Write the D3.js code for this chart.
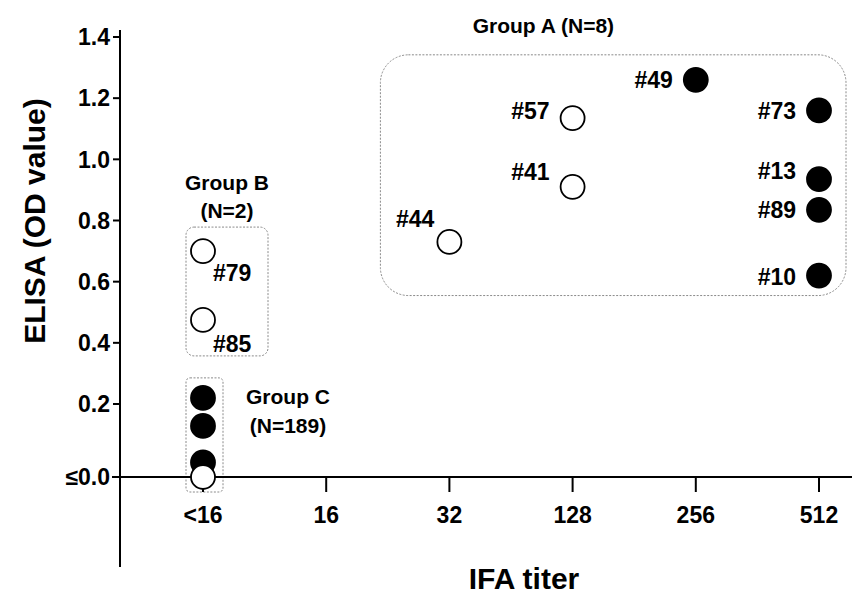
<!DOCTYPE html>
<html>
<head>
<meta charset="utf-8">
<script src="https://cdn.jsdelivr.net/npm/d3@7"></script>
<style>
  html, body { margin: 0; padding: 0; background: #fff; }
  svg { display: block; font-family: Arial, 'Liberation Sans', Helvetica, sans-serif; font-weight: bold; }
</style>
</head>
<body>
<script>

// x categories (IFA titer) and y ticks (ELISA OD)
const titerCats = ['<16', '16', '32', '128', '256', '512'];
const odTicks = [0, 0.2, 0.4, 0.6, 0.8, 1.0, 1.2, 1.4];
const odTickLabels = ['≤0.0', '0.2', '0.4', '0.6', '0.8', '1.0', '1.2', '1.4'];

// group A (N=8)
const groupAIds = ['#44', '#57', '#41', '#49', '#73', '#13', '#89', '#10'];
const groupATiter = ['32', '128', '128', '256', '512', '512', '512', '512'];
const groupAOD = [0.73, 1.135, 0.91, 1.26, 1.16, 0.935, 0.835, 0.62];
const groupAPositive = [false, false, false, true, true, true, true, true];

// group B (N=2)
const groupBIds = ['#79', '#85'];
const groupBTiter = ['<16', '<16'];
const groupBOD = [0.70, 0.475];
const groupBPositive = [false, false];

// group C (N=189)
const groupCIds = ['', '', '', ''];
const groupCTiter = ['<16', '<16', '<16', '<16'];
const groupCOD = [0.22, 0.14, 0.04, 0.0];
const groupCPositive = [true, true, true, false];

const width = 852;
const height = 596;
const axisX = 120;
const axisY = 477;

const svg = d3.select('body').append('svg')
  .attr('width', width)
  .attr('height', height);

svg.append('rect')
  .attr('width', width)
  .attr('height', height)
  .attr('fill', '#fff');

const x = d3.scalePoint()
  .domain(titerCats)
  .range([203, 819]);

// the <=0.0 band is drawn a bit taller than the other steps
const y = d3.scaleLinear()
  .domain([0, 0.2, 1.4])
  .range([axisY, 404, 37]);

function zip(ids, titers, ods, pos) {
  return ids.map(function (id, i) {
    return { id: id, titer: titers[i], od: ods[i], positive: pos[i] };
  });
}

const groups = [
  { name: 'A', lines: ['Group A (N=8)'], points: zip(groupAIds, groupATiter, groupAOD, groupAPositive),
    pad: [25, 27, 20, 69], rx: 28 },
  { name: 'B', lines: ['Group B', '(N=2)'], points: zip(groupBIds, groupBTiter, groupBOD, groupBPositive),
    pad: [24, 65, 36, 17], rx: 8 },
  { name: 'C', lines: ['Group C', '(N=189)'], points: zip(groupCIds, groupCTiter, groupCOD, groupCPositive),
    pad: [20, 20, 15, 17], rx: 4 }
];

// where each id label sits relative to its point [dx, dy]
const labelOffsets = {
  '#44': [-15, -15], '#57': [-23, 1], '#41': [-23, -7], '#49': [-23, 8],
  '#73': [-23, 9], '#13': [-23, 0], '#89': [-23, 8], '#10': [-23, 9],
  '#79': [10, 30], '#85': [10, 32]
};

// group boxes
groups.forEach(function (g) {
  const xs = g.points.map(function (d) { return x(d.titer); });
  const ys = g.points.map(function (d) { return y(d.od); });
  g.box = {
    x0: d3.min(xs) - g.pad[3],
    x1: d3.max(xs) + g.pad[1],
    y0: d3.min(ys) - g.pad[0],
    y1: d3.max(ys) + g.pad[2]
  };
});

svg.append('g')
  .attr('class', 'boxes')
  .selectAll('rect')
  .data(groups)
  .enter().append('rect')
    .attr('x', function (g) { return g.box.x0; })
    .attr('y', function (g) { return g.box.y0; })
    .attr('width', function (g) { return g.box.x1 - g.box.x0; })
    .attr('height', function (g) { return g.box.y1 - g.box.y0; })
    .attr('rx', function (g) { return g.rx; })
    .attr('fill', 'none')
    .attr('stroke', '#8a8a8a')
    .attr('stroke-width', 1)
    .attr('stroke-dasharray', '2,1.5');

// axes
svg.append('line')
  .attr('x1', axisX).attr('x2', axisX)
  .attr('y1', 30).attr('y2', 567)
  .attr('stroke', '#000').attr('stroke-width', 2);

svg.append('line')
  .attr('x1', axisX - 8).attr('x2', width)
  .attr('y1', axisY).attr('y2', axisY)
  .attr('stroke', '#000').attr('stroke-width', 2);

const yTick = svg.append('g').attr('class', 'y-ticks')
  .selectAll('g')
  .data(odTicks)
  .enter().append('g')
    .attr('transform', function (d) { return 'translate(' + axisX + ',' + y(d) + ')'; });

yTick.filter(function (d) { return d > 0; }).append('line')
  .attr('x1', -7).attr('x2', 0)
  .attr('stroke', '#000').attr('stroke-width', 2);

yTick.append('text')
  .attr('x', -10)
  .attr('dy', '0.36em')
  .attr('text-anchor', 'end')
  .attr('font-size', 23)
  .text(function (d, i) { return odTickLabels[i]; });

const xTick = svg.append('g').attr('class', 'x-ticks')
  .selectAll('g')
  .data(titerCats)
  .enter().append('g')
    .attr('transform', function (d) { return 'translate(' + x(d) + ',' + axisY + ')'; });

xTick.append('line')
  .attr('y1', 0).attr('y2', 15)
  .attr('stroke', '#000').attr('stroke-width', 2);

xTick.append('text')
  .attr('y', 46)
  .attr('text-anchor', 'middle')
  .attr('font-size', 23)
  .text(function (d) { return d; });

svg.append('text')
  .attr('transform', 'translate(45,221) rotate(-90)')
  .attr('text-anchor', 'middle')
  .attr('font-size', 30)
  .text('ELISA (OD value)');

svg.append('text')
  .attr('x', 524)
  .attr('y', 589)
  .attr('text-anchor', 'middle')
  .attr('font-size', 30)
  .text('IFA titer');

// points (filled first so open circles sit on top)
const allPoints = [];
groups.forEach(function (g) { g.points.forEach(function (d) { allPoints.push(d); }); });
allPoints.sort(function (a, b) { return (b.positive ? 1 : 0) - (a.positive ? 1 : 0); });

svg.append('g')
  .attr('class', 'points')
  .selectAll('circle')
  .data(allPoints)
  .enter().append('circle')
    .attr('cx', function (d) { return x(d.titer); })
    .attr('cy', function (d) { return y(d.od); })
    .attr('r', 12)
    .attr('fill', function (d) { return d.positive ? '#000' : '#fff'; })
    .attr('stroke', '#000')
    .attr('stroke-width', 1.8);

svg.append('g')
  .attr('class', 'point-labels')
  .selectAll('text')
  .data(allPoints.filter(function (d) { return labelOffsets[d.id]; }))
  .enter().append('text')
    .attr('x', function (d) { return x(d.titer) + labelOffsets[d.id][0]; })
    .attr('y', function (d) { return y(d.od) + labelOffsets[d.id][1]; })
    .attr('text-anchor', function (d) { return labelOffsets[d.id][0] < 0 ? 'end' : 'start'; })
    .attr('font-size', 23)
    .text(function (d) { return d.id; });

// group captions
const captionPos = {
  A: function (b) { return [b.x0 + 163, b.y0 - 22, 0]; },
  B: function (b) { return [(b.x0 + b.x1) / 2, b.y0 - 37, 28]; },
  C: function (b) { return [b.x1 + 65, b.y0 + 26, 29]; }
};

groups.forEach(function (g) {
  const p = captionPos[g.name](g.box);
  svg.append('text')
    .attr('class', 'caption')
    .attr('x', p[0])
    .attr('y', p[1])
    .attr('text-anchor', 'middle')
    .attr('font-size', 21)
    .selectAll('tspan')
    .data(g.lines)
    .enter().append('tspan')
      .attr('x', p[0])
      .attr('dy', function (d, i) { return i === 0 ? 0 : p[2]; })
      .text(function (d) { return d; });
});

</script>
</body>
</html>
